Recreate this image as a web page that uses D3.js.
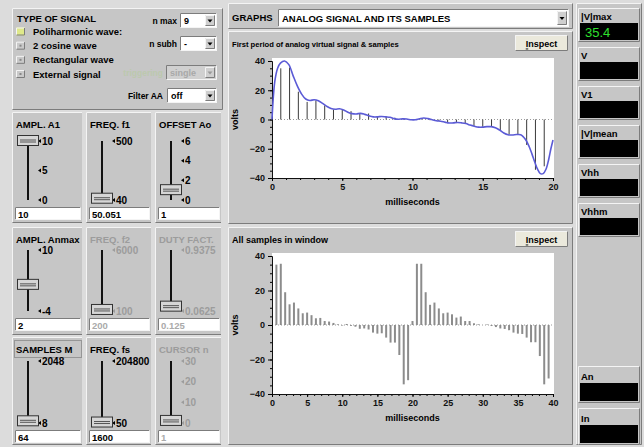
<!DOCTYPE html>
<html>
<head>
<meta charset="utf-8">
<script src="https://cdn.jsdelivr.net/npm/d3@7"></script>
<style>
  body { margin: 0; background: #dcdcdc; }
  svg { display: block; }
  text { font-family: "Liberation Sans", Arial, sans-serif; }
</style>
</head>
<body>
<svg width="644" height="447"></svg>
<script>
// ---- values
var signalTypes = ["Poliharmonic wave:", "2 cosine wave", "Rectangular wave", "External signal"];
var graphChoice = "ANALOG SIGNAL AND ITS SAMPLES";

// analog curve, first period (ms, volts)
var curveTime = [0, 0.2, 0.4, 0.6, 0.9, 1.2, 1.5, 1.8, 2.1, 2.4, 2.7, 3.0, 3.3, 3.6, 3.9, 4.2, 4.5, 4.8,
  5.1, 5.4, 5.7, 6.0, 6.3, 6.6, 6.9, 7.2, 7.5, 7.8, 8.1, 8.4, 8.7, 9.0, 9.3, 9.6, 9.9, 10.2, 10.5,
  10.8, 11.1, 11.4, 11.7, 12.0, 12.3, 12.6, 12.9, 13.2, 13.5, 13.8, 14.1, 14.4, 14.7, 15.0, 15.3,
  15.6, 15.9, 16.2, 16.5, 16.8, 17.1, 17.4, 17.7, 17.9, 18.1, 18.3, 18.5, 18.7, 18.9, 19.1, 19.3,
  19.5, 19.7, 19.85, 20];
var curveVolts = [0, 26, 35, 38.5, 40, 37.5, 30, 23, 17.5, 14, 13, 13.5, 12.8, 11, 9, 7.5, 7, 7.3,
  6.5, 5, 4, 3.8, 4.2, 3.5, 2.5, 1.8, 1.8, 2.1, 1.8, 1.5, 0.6, 0.2, 0.4, 0.3, -0.2, -0.2, 0.5,
  1.0, 0.6, -0.2, -0.9, -1.2, -1.8, -2.4, -2.3, -2.0, -2.3, -2.8, -3.8, -4.6, -5.2, -5.2, -4.9,
  -4.9, -5.6, -7.2, -9.2, -10.4, -10.6, -10.3, -10.4, -12, -14.5, -18.5, -23.5, -29, -34, -37, -37,
  -34, -27, -20, -14];

// 64 samples, fs = 1600 Hz
var sampleFreq = 1600;
var samplesVolts = [0, 35, 35.5, 19, 12, 13, 9.6, 6.8, 7.2, 5.7, 3.9, 4.1, 2.3, 2.0, 1.2, 0.4,
  -0.3, 0.6, -0.5, -1.0, -2.2, -2.0, -2.6, -4.4, -5.0, -4.8, -7.3, -10.2, -10.2, -17.4, -34.4, -32,
  2.3, 35.5, 35.5, 19, 11.7, 13, 9.6, 6.8, 7.2, 6.2, 4.3, 4.9, 2.3, 2.3, 1.0, 0.4,
  0, 0.3, -0.6, -1.2, -2.0, -2.3, -3.0, -4.4, -5.0, -5.2, -7.3, -10, -10, -18, -34.4, -31];
var firstPeriodCount = 32;

var yTicks = [-40, -20, 0, 20, 40];
var xTicksFirst = [0, 5, 10, 15, 20];
var xTicksAll = [0, 5, 10, 15, 20, 25, 30, 35, 40];

var indicatorNames = ["|V|max", "V", "V1", "|V|mean", "Vhh", "Vhhm"];
var indicatorValues = ["35.4", "", "", "", "", ""];
var bottomIndicators = ["An", "In"];

var sliderTitles = ["AMPL. A1", "FREQ. f1", "OFFSET Ao", "AMPL. Anmax", "FREQ. f2", "DUTY FACT.",
  "SAMPLES M", "FREQ. fs", "CURSOR n"];
var sliderValues = [10, 50.051, 1, 2, 200, 0.125, 64, 1600, 1];
var sliderMin = [0, 40, 0, -4, 100, 0.0625, 8, 50, 0];
var sliderMax = [10, 500, 6, 10, 6000, 0.9375, 2048, 204800, 30];
var sliderTicks = [[10, 5, 0], [500, 40], [6, 4, 2, 0], [10, -4], [6000, 100], [0.9375, 0.0625],
  [2048, 8], [204800, 50], [30, 20, 10, 0]];
var sliderDisabled = [false, false, false, false, true, true, false, false, true];

// ---- helpers
var svg = d3.select("svg");
var FACE = "#c6c6c6";

function bevel(g, x, y, w, h, fill, up) {
  g.append("rect").attr("x", x).attr("y", y).attr("width", w).attr("height", h).attr("fill", fill);
  var light = up ? "#f4f4f4" : "#7c7c7c", dark = up ? "#7c7c7c" : "#f4f4f4";
  g.append("path").attr("d", "M" + (x + .5) + "," + (y + h - .5) + "V" + (y + .5) + "H" + (x + w - .5))
    .attr("stroke", light).attr("fill", "none");
  g.append("path").attr("d", "M" + (x + .5) + "," + (y + h - .5) + "H" + (x + w - .5) + "V" + (y + .5))
    .attr("stroke", dark).attr("fill", "none");
}

function txt(g, x, y, s, o) {
  o = o || {};
  return g.append("text").attr("x", x).attr("y", y).text(s)
    .attr("font-size", o.size || 9).attr("font-weight", o.weight || "bold")
    .attr("fill", o.fill || "#000").attr("text-anchor", o.anchor || "start")
    .attr("dominant-baseline", "central");
}

function dropdown(g, x, y, w, h, s, disabled, size) {
  bevel(g, x, y, w, h, disabled ? "#d0d0d0" : "#fff", false);
  bevel(g, x + w - 12, y + 2, 10, h - 4, "#cfcfcf", true);
  var cx = x + w - 7, cy = y + h / 2;
  g.append("path").attr("d", "M" + (cx - 2.5) + "," + (cy - 1) + "h5l-2.5,3z")
    .attr("fill", disabled ? "#999" : "#000");
  txt(g, x + 4, cy, s, { fill: disabled ? "#a8a8a8" : "#000", size: size || 9 });
}

// ---- left: type of signal
var typeG = svg.append("g");
bevel(typeG, 12, 8, 211, 102, FACE, true);
txt(typeG, 17, 18, "TYPE OF SIGNAL", { size: 9.5 });
var ledY = d3.scalePoint().domain(signalTypes).range([31.5, 74]);
signalTypes.forEach(function(s, i) {
  var cy = ledY(s);
  bevel(typeG, 16, cy - 4, 9, 8, i === 0 ? "#dfe98a" : "#c9c9c9", true);
  if (i > 0) typeG.append("rect").attr("x", 19.5).attr("y", cy - 1).attr("width", 2).attr("height", 2).attr("fill", "#888");
  txt(typeG, 33, cy, s, { size: 9.5 });
});
txt(typeG, 177, 21, "n max", { anchor: "end", size: 8.5 });
dropdown(typeG, 180, 13, 37, 15, "9");
txt(typeG, 177, 43.5, "n subh", { anchor: "end", size: 8.5 });
dropdown(typeG, 180, 36, 37, 15, "-");
txt(typeG, 163, 72.5, "triggering", { anchor: "end", size: 8.5, fill: "#bcc9ae" });
dropdown(typeG, 166, 65, 51, 15, "single", true);
txt(typeG, 163, 95.5, "Filter AA", { anchor: "end", size: 8.5 });
dropdown(typeG, 167, 88, 50, 15, "off");

// ---- left: sliders
var colX = [12, 86, 155], colW = [72, 67, 68];
var rowY = [112, 227, 337], rowH = [111, 108, 108];
var trackTop = [141, 250, 361], trackBot = [200, 311, 423], fieldY = [207, 318, 430];

sliderTitles.forEach(function(t, i) {
  var c = i % 3, r = Math.floor(i / 3);
  var x0 = colX[c], y0 = rowY[r], w = colW[c], h = rowH[r];
  svg.append("clipPath").attr("id", "clip" + i).append("rect")
    .attr("x", x0).attr("y", y0).attr("width", w - 2).attr("height", h);
  var g = svg.append("g").attr("clip-path", "url(#clip" + i + ")");
  bevel(g, x0, y0, w, h, FACE, true);
  var col = sliderDisabled[i] ? "#9c9c9c" : "#000";
  txt(g, x0 + 4, y0 + 12, t, { fill: col, size: 9.5 });
  if (t === "SAMPLES M") {
    g.append("rect").attr("x", x0 + 2.5).attr("y", y0 + 3.5).attr("width", w - 5).attr("height", 17)
      .attr("fill", "none").attr("stroke", "#666").attr("stroke-dasharray", "1,1");
  }
  var tx = x0 + 16;
  var sc = d3.scaleLinear().domain([sliderMin[i], sliderMax[i]]).range([trackBot[r], trackTop[r]]);
  g.append("line").attr("x1", tx).attr("x2", tx).attr("y1", trackTop[r]).attr("y2", trackBot[r])
    .attr("stroke", "#111").attr("stroke-width", 2);
  sliderTicks[i].forEach(function(v) {
    var ty = sc(v);
    g.append("path").attr("d", "M" + (tx + 10) + "," + ty + "l3,-2v4z").attr("fill", col);
    txt(g, tx + 14, ty, String(v), { fill: col, size: 10 });
  });
  var thy = sc(sliderValues[i]);
  g.append("rect").attr("x", tx - 10.5).attr("y", thy - 5.5).attr("width", 21).attr("height", 10)
    .attr("fill", "#d6d6d6").attr("stroke", "#333");
  g.append("line").attr("x1", tx - 8).attr("x2", tx + 8).attr("y1", thy - 1).attr("y2", thy - 1).attr("stroke", "#555");
  g.append("line").attr("x1", tx - 8).attr("x2", tx + 8).attr("y1", thy + 1).attr("y2", thy + 1).attr("stroke", "#555");
  bevel(g, x0 + 3, fieldY[r], w - 6, 13, "#fff", false);
  txt(g, x0 + 6, fieldY[r] + 7, String(sliderValues[i]), { fill: sliderDisabled[i] ? "#aaa" : "#000", size: 9.5 });
});

// ---- middle: graph selector
var midG = svg.append("g");
bevel(midG, 228, 3, 345, 26, FACE, true);
txt(midG, 232, 17, "GRAPHS", { size: 9.5 });
dropdown(midG, 278, 9, 291, 18, graphChoice, false, 9.5);

function inspectButton(g, x, y) {
  bevel(g, x, y, 53, 16, "#ebe9dc", true);
  var t = g.append("text").attr("x", x + 26.5).attr("y", y + 8.5).attr("text-anchor", "middle")
    .attr("dominant-baseline", "central").attr("font-size", 9).attr("font-weight", "bold");
  t.append("tspan").attr("text-decoration", "underline").text("I");
  t.append("tspan").text("nspect");
}

function plotPanel(o) {
  var g = svg.append("g");
  bevel(g, 228, o.top, 345, o.height, FACE, true);
  txt(g, 232, o.top + 13, o.title, { size: o.titleSize });
  inspectButton(g, 515, o.top + 4);

  var x = d3.scaleLinear().domain([0, o.xMax]).range([272, 553]);
  var y = d3.scaleLinear().domain([-40, 40]).range(o.yRange);

  g.append("rect").attr("x", x(0)).attr("y", y(40) - 3).attr("width", x(o.xMax) - x(0) + 1)
    .attr("height", y(-40) - y(40) + 3).attr("fill", "#fff");
  g.append("line").attr("x1", x(0)).attr("x2", x(o.xMax)).attr("y1", y(0)).attr("y2", y(0))
    .attr("stroke", "#9a9a9a").attr("stroke-dasharray", "1,2");

  var yMinor = g.append("g").attr("transform", "translate(" + x(0) + ",0)")
    .call(d3.axisLeft(y).tickValues(d3.range(-40, 41, 5)).tickSize(2).tickFormat(""));
  yMinor.select(".domain").remove();
  var xMinor = g.append("g").attr("transform", "translate(0," + y(-40) + ")")
    .call(d3.axisBottom(x).tickValues(d3.range(0, o.xMax + 0.1, 1)).tickSize(2).tickFormat(""));
  xMinor.select(".domain").remove();

  var ya = g.append("g").attr("transform", "translate(" + x(0) + ",0)")
    .call(d3.axisLeft(y).tickValues(yTicks).tickSize(4).tickPadding(3));
  var xa = g.append("g").attr("transform", "translate(0," + y(-40) + ")")
    .call(d3.axisBottom(x).tickValues(o.xTicks).tickSize(3).tickPadding(3));
  [ya, xa].forEach(function(a) {
    a.selectAll("text").attr("font-family", '"Liberation Sans", Arial, sans-serif')
      .attr("font-size", 9).attr("font-weight", "bold").attr("fill", "#111");
    a.select(".domain").attr("stroke", "#111");
  });

  g.append("text").attr("transform", "translate(235," + ((y(40) + y(-40)) / 2) + ") rotate(-90)")
    .attr("text-anchor", "middle").attr("dominant-baseline", "central")
    .attr("font-size", 9).attr("font-weight", "bold").text("volts");
  txt(g, (x(0) + x(o.xMax)) / 2, y(-40) + 24, "milliseconds", { anchor: "middle" });
  return { g: g, x: x, y: y };
}

var sampleTime = samplesVolts.map(function(v, i) { return i * 1000 / sampleFreq; });

// first period
var p1 = plotPanel({ top: 31, height: 193, title: "First period of analog virtual signal & samples",
  titleSize: 7.6, xMax: 20, xTicks: xTicksFirst, yRange: [178, 61] });
p1.g.append("g").selectAll("line").data(samplesVolts.slice(0, firstPeriodCount)).enter().append("line")
  .attr("x1", function(d, i) { return p1.x(sampleTime[i]); })
  .attr("x2", function(d, i) { return p1.x(sampleTime[i]); })
  .attr("y1", p1.y(0))
  .attr("y2", function(d) { return p1.y(d); })
  .attr("stroke", "#3a3a3a").attr("stroke-width", 1);
var line = d3.line()
  .x(function(d, i) { return p1.x(curveTime[i]); })
  .y(function(d) { return p1.y(d); })
  .curve(d3.curveCatmullRom);
p1.g.append("path").datum(curveVolts).attr("d", line)
  .attr("fill", "none").attr("stroke", "#5b5bd6").attr("stroke-width", 1.6);

// all samples
var p2 = plotPanel({ top: 227, height: 218, title: "All samples in window",
  titleSize: 9, xMax: 40, xTicks: xTicksAll, yRange: [394, 256] });
p2.g.append("g").selectAll("line").data(samplesVolts).enter().append("line")
  .attr("x1", function(d, i) { return p2.x(sampleTime[i]); })
  .attr("x2", function(d, i) { return p2.x(sampleTime[i]); })
  .attr("y1", p2.y(0))
  .attr("y2", function(d) { return p2.y(d); })
  .attr("stroke", "#8c8c8c").attr("stroke-width", 2);

// ---- right: indicators
var rightG = svg.append("g");
bevel(rightG, 576, 3, 66, 442, FACE, true);
var indY = d3.scaleLinear().domain([0, indicatorNames.length - 1]).range([8, 203]);
indicatorNames.forEach(function(n, i) {
  var y0 = indY(i);
  bevel(rightG, 578, y0, 62, 34, FACE, true);
  txt(rightG, 581, y0 + 8, n, { size: 9.5 });
  rightG.append("rect").attr("x", 580).attr("y", y0 + 15).attr("width", 58).attr("height", 17).attr("fill", "#000");
  if (indicatorValues[i]) {
    txt(rightG, 585, y0 + 24, indicatorValues[i], { size: 13, weight: "normal", fill: "#2fe02f" });
  }
});
bottomIndicators.forEach(function(n, i) {
  var y0 = 366 + i * 42;
  bevel(rightG, 578, y0, 62, 37, FACE, true);
  txt(rightG, 581, y0 + 10, n, { size: 9.5 });
  rightG.append("rect").attr("x", 580).attr("y", y0 + 17).attr("width", 58).attr("height", 18).attr("fill", "#000");
});
</script>
</body>
</html>
